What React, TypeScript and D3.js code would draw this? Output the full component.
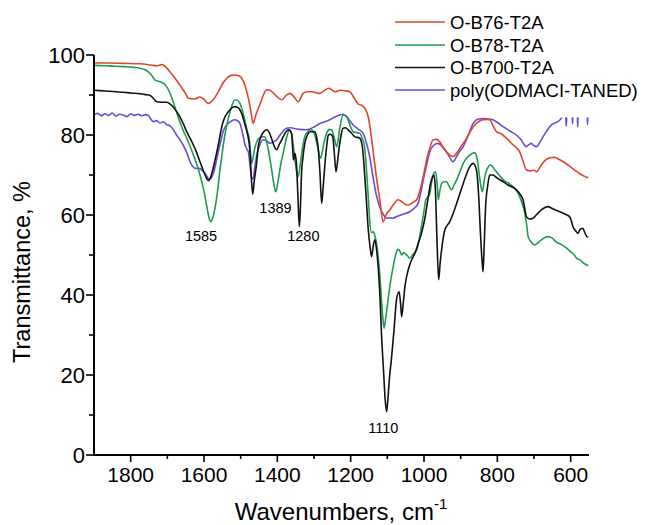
import React from 'react';
import * as d3 from 'd3';

type Pt = [number, number];

const seriesNames = ['O-B76-T2A', 'O-B78-T2A', 'O-B700-T2A', 'poly(ODMACI-TANED)'];

// O-B76-T2A  [wavenumber, transmittance %]
const redSeries: Pt[] = [
  [1900,98.0],[1860,98.0],[1820,97.9],[1775,97.8],[1745,97.5],[1729,97.3],[1715,97.6],[1700,96.6],[1693,95.8],[1680,94.3],[1666,92.5],[1650,90.3],[1643,89.2],[1625,89.0],[1611,89.5],[1600,88.9],[1588,87.9],[1575,88.8],[1561,90.8],[1548,93.0],[1538,94.2],[1525,94.9],[1516,95.0],[1505,94.8],[1497,94.2],[1488,92.3],[1479,89.2],[1472,85.8],[1466,82.9],[1458,85.2],[1448,87.5],[1438,90.0],[1429,91.3],[1420,91.2],[1411,90.5],[1400,89.5],[1388,88.8],[1377,89.8],[1366,90.4],[1355,89.6],[1343,88.3],[1335,89.5],[1330,90.4],[1318,90.8],[1306,90.8],[1295,90.6],[1284,90.4],[1272,91.1],[1260,91.7],[1250,91.2],[1243,90.8],[1227,91.2],[1212,91.0],[1202,90.8],[1192,89.5],[1180,87.8],[1170,87.4],[1160,86.5],[1152,84.5],[1145,80.5],[1138,75.5],[1130,69.6],[1120,63.5],[1112,58.3],[1102,60.3],[1093,61.3],[1082,62.8],[1071,63.8],[1060,63.3],[1050,62.6],[1043,62.5],[1030,63.2],[1020,63.8],[1010,66.5],[1000,70.5],[993,73.8],[984,76.8],[975,78.8],[965,78.9],[957,78.3],[945,76.5],[930,75.0],[921,74.6],[910,75.6],[900,77.0],[893,77.9],[880,79.8],[870,81.5],[857,82.9],[848,83.5],[839,83.8],[830,83.9],[821,83.8],[810,82.0],[802,80.8],[790,80.3],[775,79.2],[760,77.8],[748,76.8],[739,75.8],[730,73.5],[721,71.3],[710,71.0],[700,71.2],[693,70.8],[680,72.5],[668,73.8],[657,74.3],[645,74.4],[630,73.8],[615,73.0],[603,72.2],[590,71.3],[575,70.3],[565,69.8],[556,69.4],[552,69.4]
];

// O-B78-T2A
const greenSeries: Pt[] = [
  [1900,97.4],[1870,97.3],[1840,97.2],[1820,97.1],[1790,96.9],[1775,96.7],[1760,96.3],[1752,95.8],[1742,94.8],[1734,93.8],[1720,93.3],[1710,92.9],[1702,92.1],[1693,90.5],[1684,88.3],[1675,85.8],[1666,83.3],[1657,81.2],[1647,79.2],[1638,77.2],[1629,75.0],[1620,72.8],[1611,70.0],[1602,66.8],[1593,62.5],[1586,59.2],[1582,58.3],[1576,59.3],[1570,61.7],[1563,66.0],[1557,70.8],[1550,75.8],[1543,80.0],[1536,83.2],[1529,85.8],[1522,87.8],[1516,88.8],[1509,88.7],[1502,87.9],[1495,86.0],[1488,83.3],[1482,81.0],[1477,79.2],[1472,74.5],[1470,72.9],[1462,76.5],[1452,79.0],[1441,79.6],[1434,79.5],[1425,76.5],[1415,71.0],[1408,67.0],[1404,65.8],[1398,68.5],[1390,73.0],[1384,75.4],[1375,79.3],[1366,81.3],[1358,78.5],[1352,73.8],[1347,70.5],[1343,69.6],[1337,73.0],[1330,77.5],[1325,79.6],[1315,81.0],[1307,81.3],[1298,80.0],[1290,77.0],[1282,74.2],[1274,77.5],[1266,80.4],[1257,81.4],[1252,81.3],[1245,79.3],[1238,77.1],[1230,81.5],[1221,85.0],[1211,84.6],[1200,82.0],[1193,80.8],[1175,80.4],[1168,79.0],[1162,77.1],[1157,71.5],[1152,64.6],[1148,58.5],[1143,55.6],[1138,55.8],[1134,54.8],[1128,52.0],[1125,49.6],[1120,44.5],[1116,38.8],[1112,34.0],[1109,31.7],[1104,34.5],[1098,38.8],[1091,43.5],[1084,47.1],[1076,50.5],[1071,51.4],[1066,51.0],[1061,50.0],[1056,50.6],[1052,50.4],[1045,49.8],[1039,49.2],[1030,50.2],[1020,51.3],[1013,54.0],[1007,57.1],[1000,61.0],[995,63.8],[989,64.5],[984,65.4],[979,68.3],[975,70.0],[968,70.8],[964,67.5],[961,63.8],[957,66.0],[952,67.9],[945,68.3],[939,68.3],[932,67.3],[925,66.3],[918,67.5],[911,68.8],[902,70.8],[893,72.9],[884,74.2],[875,75.0],[862,75.6],[857,74.8],[853,72.9],[847,68.5],[841,65.8],[836,68.5],[832,70.4],[826,71.8],[821,72.5],[814,72.2],[807,71.3],[795,70.0],[784,68.8],[770,68.0],[757,67.1],[748,66.2],[739,64.6],[732,62.8],[725,60.4],[720,57.5],[716,54.6],[708,53.3],[698,52.5],[690,53.0],[680,53.8],[670,54.4],[662,54.6],[650,54.2],[640,53.3],[625,52.6],[611,51.7],[600,50.8],[590,50.0],[584,49.2],[575,48.8],[565,48.0],[556,47.5],[552,47.3]
];

// O-B700-T2A
const blackSeries: Pt[] = [
  [1900,91.2],[1870,91.0],[1840,90.8],[1820,90.7],[1800,90.5],[1775,90.3],[1760,90.1],[1747,89.9],[1738,89.2],[1729,88.3],[1715,88.2],[1702,88.2],[1693,87.8],[1684,87.0],[1675,85.9],[1666,84.6],[1657,82.9],[1647,80.8],[1638,79.2],[1629,77.5],[1620,75.6],[1611,73.3],[1604,71.6],[1597,70.0],[1592,69.0],[1588,68.6],[1582,69.4],[1575,71.7],[1568,74.5],[1561,77.5],[1555,80.5],[1548,83.3],[1540,85.0],[1529,86.3],[1520,87.0],[1516,87.1],[1508,86.9],[1502,86.3],[1495,84.8],[1488,82.5],[1482,80.5],[1475,76.3],[1470,68.0],[1467,65.2],[1463,68.5],[1457,72.5],[1452,77.1],[1445,79.5],[1437,80.8],[1429,81.3],[1422,80.6],[1416,79.2],[1409,77.3],[1402,76.3],[1395,77.6],[1388,78.8],[1380,80.3],[1370,81.3],[1361,80.4],[1358,76.5],[1356,73.8],[1352,75.4],[1348,72.9],[1344,65.0],[1340,57.1],[1337,62.0],[1334,70.4],[1330,74.5],[1325,77.9],[1318,80.0],[1311,80.8],[1298,80.8],[1293,79.5],[1289,77.1],[1284,71.0],[1279,62.9],[1275,67.0],[1270,72.9],[1265,77.5],[1261,80.0],[1255,80.2],[1249,79.6],[1245,76.0],[1240,70.8],[1235,74.0],[1231,77.1],[1226,80.0],[1221,81.7],[1214,81.8],[1207,81.3],[1198,80.5],[1189,79.6],[1175,79.2],[1168,77.0],[1164,72.9],[1158,65.0],[1152,56.3],[1147,52.0],[1143,49.6],[1138,52.5],[1134,53.8],[1129,51.0],[1125,47.1],[1120,39.5],[1116,30.4],[1110,20.5],[1106,14.0],[1102,10.8],[1098,14.5],[1094,19.5],[1089,23.8],[1082,31.0],[1075,38.8],[1068,40.8],[1064,38.0],[1061,34.6],[1056,38.5],[1052,42.1],[1043,46.3],[1035,48.5],[1025,50.4],[1016,52.8],[1007,55.4],[998,59.0],[990,63.5],[983,67.5],[977,69.5],[973,70.0],[969,66.5],[965,55.0],[960,43.8],[956,48.0],[952,51.3],[943,56.3],[930,58.3],[920,60.5],[911,62.9],[893,67.9],[884,70.2],[875,72.1],[866,72.9],[857,71.3],[851,65.0],[846,55.4],[842,49.0],[839,45.8],[836,52.0],[832,62.1],[826,67.5],[821,70.0],[812,70.0],[800,69.2],[793,68.8],[782,68.2],[771,67.5],[760,67.0],[748,66.3],[738,65.2],[730,63.8],[725,61.5],[721,59.6],[712,59.0],[703,59.2],[692,60.2],[680,61.3],[670,61.9],[662,62.1],[650,61.6],[640,61.2],[630,60.8],[617,60.3],[603,59.6],[598,58.5],[594,57.1],[586,56.0],[580,55.4],[575,56.3],[567,56.7],[561,55.5],[556,54.6],[552,54.5]
];

// poly(ODMACI-TANED)
const purpleSeries: Pt[] = [
  [1900,85.0],[1890,85.4],[1880,84.8],[1870,85.3],[1860,84.9],[1850,85.5],[1840,84.7],[1830,85.2],[1820,85.0],[1810,84.6],[1800,85.3],[1790,84.9],[1780,85.2],[1770,84.8],[1760,85.1],[1752,84.9],[1745,84.0],[1738,83.3],[1730,83.6],[1720,83.0],[1711,83.3],[1702,82.6],[1693,82.3],[1684,81.4],[1675,80.0],[1666,78.9],[1657,77.5],[1647,75.6],[1638,73.3],[1631,72.2],[1625,71.7],[1611,71.6],[1604,71.0],[1597,70.4],[1591,69.5],[1586,68.8],[1580,69.3],[1573,70.8],[1567,73.2],[1561,75.8],[1554,78.5],[1548,80.8],[1541,82.2],[1534,82.9],[1525,83.5],[1516,83.8],[1509,83.6],[1502,82.9],[1495,80.5],[1488,77.5],[1482,76.3],[1479,75.8],[1474,72.0],[1470,69.4],[1466,69.0],[1462,71.5],[1457,74.6],[1448,77.5],[1439,78.8],[1430,78.6],[1420,77.9],[1411,78.3],[1402,78.8],[1390,80.3],[1375,81.7],[1365,81.8],[1357,81.7],[1340,81.4],[1320,81.3],[1300,82.0],[1284,82.9],[1270,83.3],[1257,83.8],[1243,84.5],[1230,85.0],[1221,85.2],[1211,84.6],[1202,83.5],[1193,82.5],[1180,81.5],[1166,80.4],[1157,78.0],[1148,74.5],[1139,69.5],[1130,65.0],[1120,61.8],[1110,60.0],[1102,59.2],[1093,59.3],[1084,59.2],[1075,59.6],[1057,60.2],[1039,60.8],[1025,61.8],[1016,62.9],[1009,65.5],[1002,68.8],[993,72.5],[984,75.8],[975,77.3],[962,77.9],[952,77.3],[943,76.3],[932,74.8],[921,73.3],[910,74.8],[902,76.0],[893,77.1],[880,79.8],[866,82.9],[852,84.0],[839,84.1],[825,84.0],[812,83.8],[798,83.0],[784,82.1],[766,81.0],[748,80.0],[735,78.8],[721,77.1],[714,77.6],[707,77.9],[700,77.3],[693,77.1],[684,78.2],[675,79.6],[664,81.2],[653,82.5],[643,83.0],[634,83.4],[627,84.0],[620,85.0],[614,85.6],[612,82.2],[610,85.8],[600,86.0],[596,85.9],[595,82.8],[593,86.0],[585,86.0],[582,86.1],[581,82.0],[579,86.1],[570,86.2],[560,86.3],[555,86.3],[554,82.6],[552,86.3]
];

const seriesColors = ['#e0452b', '#1f9c50', '#111111', '#6a4cd6'];

const xMajorTicks = [1800, 1600, 1400, 1200, 1000, 800, 600];
const xMinorTicks = [1700, 1500, 1300, 1100, 900, 700];
const yMajorTicks = [0, 20, 40, 60, 80, 100];
const yMinorTicks = [10, 30, 50, 70, 90];

const peakLabelTexts = ['1585', '1389', '1280', '1110'];
const peakLabelWave = [1608, 1405, 1329, 1111];
const peakLabelT = [53.5, 60.6, 53.4, 5.4];

const FONT = '"Liberation Sans", Arial, Helvetica, sans-serif';

export default function App() {
  const W = 647;
  const H = 525;
  const x = d3.scaleLinear().domain([1900, 550]).range([94, 589]);
  const y = d3.scaleLinear().domain([0, 100]).range([455, 55]);
  const line = d3
    .line<Pt>()
    .x((d) => x(d[0]))
    .y((d) => y(d[1]))
    .curve(d3.curveMonotoneX);

  const all = [redSeries, greenSeries, blackSeries, purpleSeries];
  const drawOrder = [3, 0, 1, 2];

  const x0 = x.range()[0];
  const x1 = x.range()[1];
  const y0 = y.range()[0];
  const y1 = y.range()[1];

  const legendRows = [22, 45, 67.5, 90];

  return (
    <svg
      width={W}
      height={H}
      viewBox={`0 0 ${W} ${H}`}
      style={{ position: 'absolute', left: 0, top: 0, background: '#fff' }}
      fontFamily={FONT}
    >
      <rect x={0} y={0} width={W} height={H} fill="#fff" />
      {drawOrder.map((i) => (
        <path
          key={i}
          d={line(all[i]) || ''}
          fill="none"
          stroke={seriesColors[i]}
          strokeWidth={1.6}
          strokeLinejoin="round"
        />
      ))}

      {/* axes */}
      <line x1={x0} x2={x1} y1={y0} y2={y0} stroke="#000" strokeWidth={2} />
      <line x1={x0} x2={x0} y1={y0 + 1} y2={y1} stroke="#000" strokeWidth={2} />

      {xMajorTicks.map((t) => (
        <g key={'xm' + t}>
          <line x1={x(t)} x2={x(t)} y1={y0} y2={y0 + 7} stroke="#000" strokeWidth={1.6} />
          <text x={x(t)} y={482} fontSize={21} textAnchor="middle" fill="#000">
            {t}
          </text>
        </g>
      ))}
      {xMinorTicks.map((t) => (
        <line key={'xn' + t} x1={x(t)} x2={x(t)} y1={y0} y2={y0 + 4} stroke="#000" strokeWidth={1.6} />
      ))}
      {yMajorTicks.map((t) => (
        <g key={'ym' + t}>
          <line x1={x0 - 8} x2={x0} y1={y(t)} y2={y(t)} stroke="#000" strokeWidth={1.6} />
          <text x={85} y={y(t)} dy="0.36em" fontSize={22} textAnchor="end" fill="#000">
            {t}
          </text>
        </g>
      ))}
      {yMinorTicks.map((t) => (
        <line key={'yn' + t} x1={x0 - 5} x2={x0} y1={y(t)} y2={y(t)} stroke="#000" strokeWidth={1.6} />
      ))}

      {/* axis titles */}
      <text x={341} y={520} fontSize={24} textAnchor="middle" fill="#000">
        Wavenumbers, cm
        <tspan fontSize={15} dy={-11}>-1</tspan>
      </text>
      <text
        transform="translate(30,272) rotate(-90)"
        fontSize={23.5}
        textAnchor="middle"
        fill="#000"
      >
        Transmittance, %
      </text>

      {/* peak labels */}
      {peakLabelTexts.map((s, i) => (
        <text
          key={s}
          x={x(peakLabelWave[i])}
          y={y(peakLabelT[i])}
          fontSize={14.5}
          textAnchor="middle"
          fill="#000"
        >
          {s}
        </text>
      ))}

      {/* legend (opaque box, as in the original) */}
      <rect x={500} y={0} width={W - 500} height={117.5} fill="#fff" />
      <rect x={385} y={0} width={W - 385} height={104} fill="#fff" />
      {seriesNames.map((n, i) => (
        <g key={n}>
          <line x1={395} x2={445} y1={legendRows[i]} y2={legendRows[i]} stroke={seriesColors[i]} strokeWidth={1.4} />
          <text x={450} y={legendRows[i]} dy="0.36em" fontSize={18.5} fill="#000">
            {n}
          </text>
        </g>
      ))}
    </svg>
  );
}
